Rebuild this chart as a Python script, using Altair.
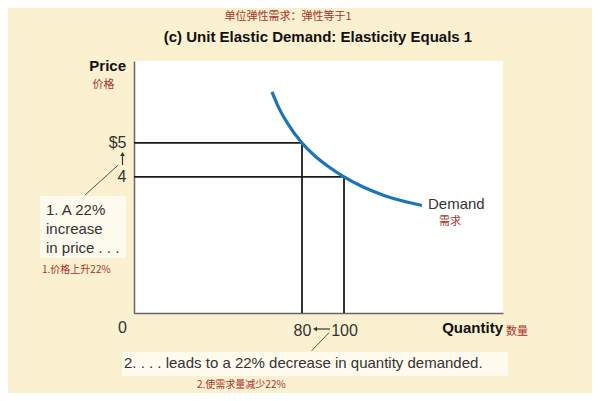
import altair as alt
import pandas as pd

# ---- data ----
curve_q = [65.7, 68.9, 72.9, 80, 86.3, 92.7, 100, 108.6, 118.1, 127.6, 137.1]
curve_p = [6.5, 6.04, 5.6, 5.0, 4.61, 4.30, 4.0, 3.72, 3.48, 3.30, 3.16]

guide_q = [80, 100]
guide_p = [5, 4]

x_ticks = [80, 100]
y_ticks = [4, 5]

X_MAX = 175.7
Y_MAX = 7.41

W, H = 369, 252
CREAM = "#FBF0D0"
BOX = "#FFFAEE"
RED = "#A8342B"
INK = "#333333"
BLUE = "#1B75BB"
FONT = "Liberation Sans"
CJK = "Noto Sans CJK SC"

xs = alt.Scale(domain=[0, X_MAX], nice=False, zero=False)
ys = alt.Scale(domain=[0, Y_MAX], nice=False, zero=False)

one = pd.DataFrame({"a": [0]})

curve_df = pd.DataFrame({"q": curve_q, "p": curve_p})
hdf = pd.DataFrame({"q0": [0, 0], "q1": guide_q, "p": guide_p})
vdf = pd.DataFrame({"q": guide_q, "p0": [0, 0], "p1": guide_p})

base_axes = alt.Chart(curve_df).mark_line(opacity=0).encode(
    x=alt.X("q:Q", scale=xs,
            axis=alt.Axis(values=x_ticks, ticks=False, grid=False, title=None,
                          domainColor="#666666", domainWidth=1.5,
                          labelFont=FONT, labelFontSize=16, labelColor=INK,
                          labelPadding=9)),
    y=alt.Y("p:Q", scale=ys,
            axis=alt.Axis(values=y_ticks, ticks=False, grid=False, title=None,
                          domainColor="#666666", domainWidth=1.5,
                          labelExpr="datum.value == 5 ? '$5' : datum.label",
                          labelFont=FONT, labelFontSize=16, labelColor=INK,
                          labelPadding=8)),
)

hlines = alt.Chart(hdf).mark_rule(color="#1a1a1a", strokeWidth=1.8).encode(
    x=alt.X("q0:Q", scale=xs), x2="q1:Q", y=alt.Y("p:Q", scale=ys))
vlines = alt.Chart(vdf).mark_rule(color="#1a1a1a", strokeWidth=1.8).encode(
    x=alt.X("q:Q", scale=xs), y=alt.Y("p0:Q", scale=ys), y2="p1:Q")

curve = alt.Chart(curve_df).mark_line(color=BLUE, strokeWidth=3.2,
                                      interpolate="monotone").encode(
    x=alt.X("q:Q", scale=xs), y=alt.Y("p:Q", scale=ys))


def rect(x, y, x2, y2, fill):
    return alt.Chart(one).mark_rect(fill=fill).encode(
        x=alt.value(x), y=alt.value(y), x2=alt.value(x2), y2=alt.value(y2))


def rule(x, y, x2, y2, color="#555555", w=1):
    return alt.Chart(one).mark_rule(color=color, strokeWidth=w).encode(
        x=alt.value(x), y=alt.value(y), x2=alt.value(x2), y2=alt.value(y2))


def head(x, y, shape):
    return alt.Chart(one).mark_point(shape=shape, filled=True, color="#333333",
                                     size=22, opacity=1).encode(
        x=alt.value(x), y=alt.value(y))


def txt(s, x, y, size, color=INK, weight="normal", align="left", font=FONT):
    return alt.Chart(one).mark_text(text=s, fontSize=size, color=color,
                                    fontWeight=weight, align=align,
                                    baseline="alphabetic", font=font).encode(
        x=alt.value(x), y=alt.value(y))


layers = [
    base_axes,
    rect(-94, 135, -8, 197, BOX),
    rect(-12, 291, 374, 315, BOX),
    hlines, vlines, curve,
    rule(-49, 134, -15.7, 104),
    rule(-11.5, 104, -11.5, 94, "#333333", 1.2),
    head(-11.5, 93, "triangle-up"),
    rule(177.7, 289.7, 195, 271.7),
    rule(181, 268, 196, 268, "#333333", 1.2),
    head(181, 268, "triangle-left"),
    txt("单位弹性需求：弹性等于1", 154, -41, 11, RED, align="center", font=CJK),
    txt("(c) Unit Elastic Demand: Elasticity Equals 1", 184, -19, 15,
        "#111111", "bold", "center"),
    txt("Price", -8, 10, 15, "#111111", "bold", "right"),
    txt("价格", -30.5, 27, 11, RED, align="center", font=CJK),
    txt("Quantity", 369, 272, 15, "#111111", "bold", "right"),
    txt("数量", 372, 274, 11, RED, font=CJK),
    txt("0", -11.5, 272, 16, INK, align="center"),
    txt("Demand", 294, 148, 15, INK),
    txt("需求", 305, 164, 11, RED, font=CJK),
    txt("1. A 22%", -88, 154, 15, INK),
    txt("increase", -88, 173, 15, INK),
    txt("in price . . .", -88, 192, 15, INK),
    txt("1.价格上升22%", -92, 212, 10, RED, font=CJK),
    txt("2. . . . leads to a 22% decrease in quantity demanded.", -10, 307,
        15, INK),
    txt("2.使需求量减少22%", 63, 327, 10, RED, font=CJK),
]

chart = alt.layer(*layers).properties(
    width=W, height=H,
    autosize=alt.AutoSizeParams(type="none"),
    padding={"left": 126, "top": 53, "right": 89, "bottom": 80},
    background=CREAM,
).configure_view(fill="white", strokeWidth=0)

chart.save("out.html", embed_options={"renderer": "svg", "actions": False})
